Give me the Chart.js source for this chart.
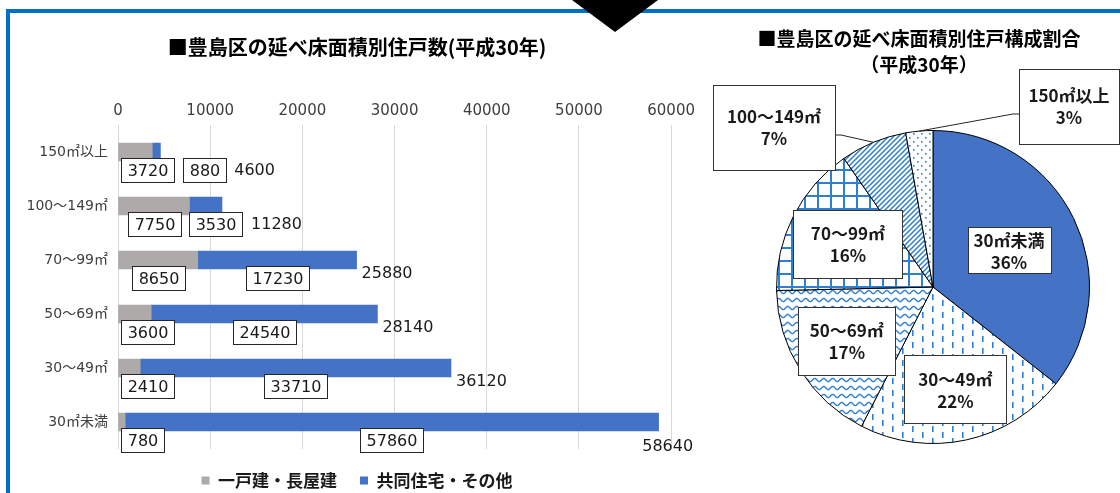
<!DOCTYPE html>
<html>
<head>
<meta charset="utf-8">
<script src="https://cdn.jsdelivr.net/npm/chart.js@4/dist/chart.umd.min.js"></script>
<style>
html,body{margin:0;padding:0;background:#fff;width:1120px;height:493px;overflow:hidden;position:relative;}
#frameTop{position:absolute;left:6px;top:9px;width:1114px;height:4px;background:#0070C0;}
#frameLeft{position:absolute;left:6px;top:9px;width:4px;height:484px;background:#0070C0;}
#tri{position:absolute;left:572px;top:0;width:0;height:0;border-left:43px solid transparent;border-right:43px solid transparent;border-top:32px solid #000;z-index:5;}
#bar{position:absolute;left:0;top:0;}
#pie{position:absolute;left:700px;top:0;}
</style>
</head>
<body>
<div id="frameTop"></div>
<div id="frameLeft"></div>
<canvas id="bar" width="700" height="493"></canvas>
<canvas id="pie" width="420" height="493"></canvas>
<div id="tri"></div>
<script>
// ---- data ----
const categories = ['150㎡以上', '100～149㎡', '70～99㎡', '50～69㎡', '30～49㎡', '30㎡未満'];
const seriesNames = ['一戸建・長屋建', '共同住宅・その他'];
const detached = [3720, 7750, 8650, 3600, 2410, 780];
const collective = [880, 3530, 17230, 24540, 33710, 57860];
const totals = [4600, 11280, 25880, 28140, 36120, 58640];
const xTicks = [0, 10000, 20000, 30000, 40000, 50000, 60000];
const barTitle = '■豊島区の延べ床面積別住戸数(平成30年)';

const pieCategories = ['30㎡未満', '30～49㎡', '50～69㎡', '70～99㎡', '100～149㎡', '150㎡以上'];
const pieValues = [58640, 36120, 28140, 25880, 11280, 4600];
const pieTitle = ['■豊島区の延べ床面積別住戸構成割合', '（平成30年）'];

// ---- fonts / colors ----
const NUM_FONT = '"DejaVu Sans", "Noto Sans CJK JP", sans-serif';
const JP_FONT = '"Noto Sans CJK JP", "DejaVu Sans", sans-serif';
const GRAY = '#AEAAAA', BLUE = '#4472C4', PAT = '#2E7FD0';
Chart.defaults.font.family = NUM_FONT;

// ---- bar chart labels plugin ----
const barLabelPlugin = {
  id: 'barLabels',
  afterDatasetsDraw(chart) {
    const ctx = chart.ctx, area = chart.chartArea;
    const m0 = chart.getDatasetMeta(0), m1 = chart.getDatasetMeta(1);
    ctx.save();
    ctx.font = '16px ' + NUM_FONT;
    ctx.textBaseline = 'middle';
    const padX = 6, bh = 24;
    const drawBox = (cx, cy, w, text) => {
      const l = Math.round(cx - w / 2) + 0.5, t = Math.round(cy - bh / 2) + 0.5;
      ctx.fillStyle = '#fff';
      ctx.fillRect(l, t, Math.round(w), bh);
      ctx.strokeStyle = '#262626';
      ctx.lineWidth = 1;
      ctx.strokeRect(l, t, Math.round(w), bh);
      ctx.fillStyle = '#1a1a1a';
      ctx.textAlign = 'center';
      ctx.fillText(text, l + Math.round(w) / 2, t + bh / 2 + 1);
    };
    chart.data.labels.forEach((_, i) => {
      const b0 = m0.data[i], b1 = m1.data[i];
      const y = b0.y, boxY = y + 18;
      const t0 = String(chart.data.datasets[0].data[i]);
      const w0 = ctx.measureText(t0).width + 2 * padX;
      const c0 = Math.max((b0.base + b0.x) / 2, area.left + 3 + w0 / 2);
      const t1 = String(chart.data.datasets[1].data[i]);
      const w1 = ctx.measureText(t1).width + 2 * padX;
      const c1 = Math.max((b1.base + b1.x) / 2, c0 + w0 / 2 + 9 + w1 / 2);
      drawBox(c0, boxY, w0, t0);
      drawBox(c1, boxY, w1, t1);
      const tt = String(totals[i]);
      const wt = ctx.measureText(tt).width;
      let left = b1.x + 5, ty = y + 14;
      const afterBox = c1 + w1 / 2 + 9;
      if (afterBox > left) { left = afterBox; ty = y + 19; }
      const maxRight = area.right + 22;
      if (left + wt > maxRight) { left = maxRight - wt; ty = y + 25; }
      ctx.fillStyle = '#1a1a1a';
      ctx.textAlign = 'left';
      ctx.fillText(tt, left, ty);
    });
    ctx.restore();
  }
};

new Chart(document.getElementById('bar'), {
  type: 'bar',
  data: {
    labels: categories,
    datasets: [
      { label: seriesNames[0], data: detached, backgroundColor: GRAY, barThickness: 18 },
      { label: seriesNames[1], data: collective, backgroundColor: BLUE, barThickness: 18 }
    ]
  },
  options: {
    indexAxis: 'y',
    responsive: false,
    animation: false,
    devicePixelRatio: 1,
    layout: { padding: { left: 20.4, right: 6.4, top: 0, bottom: 0 } },
    scales: {
      x: {
        position: 'top', stacked: true, min: 0, max: 60000,
        afterBuildTicks: s => { s.ticks = xTicks.map(v => ({ value: v })); },
        afterFit: s => { s.height = 66; },
        ticks: { callback: v => String(v), color: '#404040', font: { size: 15 }, padding: 5, maxRotation: 0 },
        grid: { color: '#D9D9D9', drawTicks: false },
        border: { display: false }
      },
      y: {
        stacked: true,
        afterFit: s => { s.width = 97.6; },
        ticks: { color: '#404040', font: { size: 14 }, padding: 10 },
        grid: { display: false, drawTicks: false },
        border: { display: false }
      }
    },
    plugins: {
      title: {
        display: true, text: barTitle, color: '#000',
        font: { family: JP_FONT, size: 20, weight: 'bold' },
        padding: { top: 35, bottom: 0 }
      },
      legend: {
        position: 'bottom', maxHeight: 44,
        labels: { boxWidth: 8, boxHeight: 8, padding: 23, color: '#1a1a1a', font: { family: JP_FONT, size: 17, weight: 'bold' } }
      },
      tooltip: { enabled: false }
    }
  },
  plugins: [barLabelPlugin]
});

// ---- pie ----
const pieCanvas = document.getElementById('pie');
const pctx = pieCanvas.getContext('2d');
function makePattern(kind) {
  const c = document.createElement('canvas');
  const sizes = { dash: [20, 12], wave: [9, 8], grid: [13, 13], diag: [5, 5], dots: [8, 8] };
  const [w, h] = sizes[kind];
  c.width = w; c.height = h;
  const g = c.getContext('2d');
  g.fillStyle = '#fff'; g.fillRect(0, 0, w, h);
  g.strokeStyle = PAT; g.fillStyle = PAT;
  if (kind === 'dash') { g.fillRect(2, 0, 1.6, 6); g.fillRect(12, 6, 1.6, 6); }
  if (kind === 'wave') {
    g.lineWidth = 1.4; g.beginPath();
    for (let x = -1; x <= w + 1; x += 0.5) {
      const y = 4 + 1.7 * Math.sin(x / w * 2 * Math.PI);
      if (x === -1) g.moveTo(x, y); else g.lineTo(x, y);
    }
    g.stroke();
  }
  if (kind === 'grid') { g.fillRect(0, 0, 2, h); g.fillRect(0, 0, w, 2); }
  if (kind === 'diag') {
    g.lineWidth = 1.5; g.beginPath();
    g.moveTo(-1, h + 1); g.lineTo(w + 1, -1);
    g.moveTo(-1, 1); g.lineTo(1, -1);
    g.moveTo(w - 1, h + 1); g.lineTo(w + 1, h - 1);
    g.stroke();
  }
  if (kind === 'dots') { g.fillRect(1, 1, 1.6, 1.6); g.fillRect(5, 5, 1.6, 1.6); }
  return pctx.createPattern(c, 'repeat');
}
const pieFills = [BLUE, makePattern('dash'), makePattern('wave'), makePattern('grid'), makePattern('diag'), makePattern('dots')];

const titleShift = {
  id: 'titleShift',
  afterLayout(chart, args, opts) {
    const t = chart.titleBlock;
    if (t) { t.left -= opts.shift; t.width += opts.shift; }
  }
};

const pieLabelPlugin = {
  id: 'pieLabels',
  afterDatasetsDraw(chart, args, opts) {
    const ctx = chart.ctx;
    const meta = chart.getDatasetMeta(0);
    const vals = chart.data.datasets[0].data;
    const sum = vals.reduce((a, b) => a + b, 0);
    ctx.save();
    ctx.font = 'bold 17px ' + JP_FONT;
    ctx.textAlign = 'center';
    ctx.textBaseline = 'middle';
    meta.data.forEach((arc, i) => {
      const p = arc.getProps(['x', 'y', 'startAngle', 'endAngle', 'outerRadius'], true);
      const mid = (p.startAngle + p.endAngle) / 2;
      const L = opts.layout[i];
      let cx, cy;
      if (L.r) {
        cx = p.x + Math.cos(mid) * p.outerRadius * L.r;
        cy = p.y + Math.sin(mid) * p.outerRadius * L.r;
      } else {
        cx = p.x + L.dx; cy = p.y + L.dy;
        const ex = p.x + Math.cos(mid) * p.outerRadius, ey = p.y + Math.sin(mid) * p.outerRadius;
        const side = ex > cx ? 1 : -1;
        const ax = cx + side * L.w / 2, ay = cy + 8;
        ctx.strokeStyle = '#262626'; ctx.lineWidth = 1;
        ctx.beginPath(); ctx.moveTo(ax, ay); ctx.lineTo(ax + side * 6, ay); ctx.lineTo(ex, ey); ctx.stroke();
      }
      const l = Math.round(cx - L.w / 2) + 0.5, t = Math.round(cy - L.h / 2) + 0.5;
      ctx.fillStyle = '#fff'; ctx.fillRect(l, t, L.w, L.h);
      ctx.strokeStyle = '#333'; ctx.lineWidth = 1; ctx.strokeRect(l, t, L.w, L.h);
      ctx.fillStyle = '#1a1a1a';
      ctx.fillText(chart.data.labels[i], cx, cy - 10);
      ctx.fillText(Math.round(vals[i] / sum * 100) + '%', cx, cy + 12);
    });
    ctx.restore();
  }
};

new Chart(pieCanvas, {
  type: 'pie',
  data: {
    labels: pieCategories,
    datasets: [{ data: pieValues, backgroundColor: pieFills, borderColor: '#000', borderWidth: 1 }]
  },
  options: {
    responsive: false,
    animation: false,
    devicePixelRatio: 1,
    layout: { padding: { left: 76, right: 30, top: 0, bottom: 49 } },
    plugins: {
      legend: { display: false },
      tooltip: { enabled: false },
      title: {
        display: true, text: pieTitle, color: '#000',
        font: { family: JP_FONT, size: 19, weight: 'bold', lineHeight: 1.4 },
        padding: { top: 25.2, bottom: 51.6 }
      },
      titleShift: { shift: 28 },
      pieLabels: {
        layout: [
          { r: 0.54, w: 83, h: 46 },
          { r: 0.67, w: 102, h: 68 },
          { r: 0.65, w: 97, h: 68 },
          { r: 0.61, w: 109, h: 68 },
          { dx: -159, dy: -160, w: 122, h: 85 },
          { dx: 136, dy: -181, w: 100, h: 75 }
        ]
      }
    }
  },
  plugins: [titleShift, pieLabelPlugin]
});
</script>
</body>
</html>
